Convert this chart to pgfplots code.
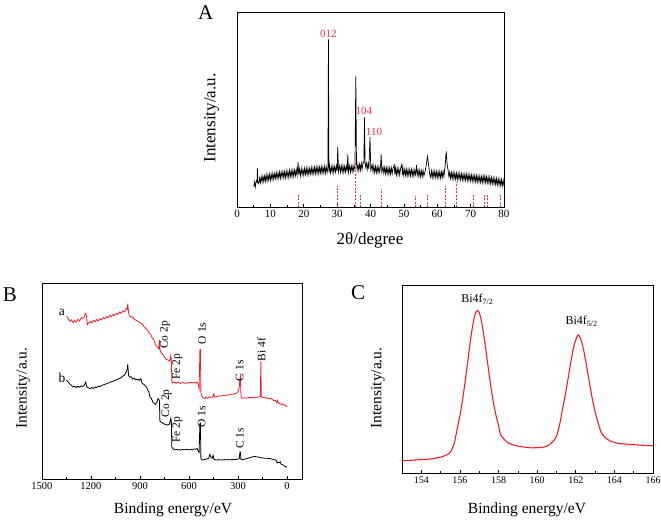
\documentclass[border=0pt]{standalone}
\usepackage{pgfplots}
\pgfplotsset{compat=1.18}
\usepackage{fontspec}
\setmainfont{Liberation Serif}
\definecolor{cred}{RGB}{240,30,40}
\definecolor{lred}{RGB}{235,50,75}
\pgfplotsset{
  panel/.style={scale only axis, axis line style={line width=0.8pt},
    ytick=\empty, xtick pos=bottom, tick align=inside,
    major tick length=3pt, minor tick length=1.8pt,
    every tick/.style={black, line width=0.6pt},
    /pgf/number format/assume math mode=true,
    /pgf/number format/1000 sep={},
    ymin=0, ymax=100,
    label style={font=\fontsize{15.5}{18}\selectfont},
    xlabel style={anchor=center}, ylabel style={anchor=center}}
}
\begin{document}
\begin{tikzpicture}
\useasboundingbox (0,0) rectangle (661pt,-522pt);
% ---------------- Panel A ----------------
\begin{axis}[panel, at={(237pt,-207pt)}, anchor=south west, width=267pt, height=195pt,
  xmin=0, xmax=80, xtick={0,10,...,80}, minor x tick num=1,
  ticklabel style={font=\fontsize{11}{13}\selectfont},
  label style={font=\fontsize{17}{20}\selectfont},
  xlabel={2θ/degree}, ylabel={Intensity/a.u.},
  xlabel style={at={(axis description cs:0.498,-0.169)}},
  ylabel style={at={(axis description cs:-0.095,0.456)}}]
\addplot[black, line width=0.7pt] table {
5.00 10.5
5.25 12.8
5.50 10.2
5.75 13.4
6.00 12.9
6.10 20.0
6.20 12.5
6.50 11.9
6.75 14.9
7.00 12.4
7.25 15.5
7.50 12.8
7.75 15.9
8.00 13.0
8.25 15.9
8.50 13.2
8.75 16.6
9.00 13.3
9.25 16.4
9.50 13.9
9.75 16.9
10.00 13.6
10.25 16.8
10.50 14.1
10.75 17.4
11.00 14.2
11.25 17.1
11.50 14.6
11.75 17.8
12.00 14.5
12.25 17.5
12.50 14.9
12.75 18.0
13.00 14.7
13.25 17.9
13.50 15.2
13.75 18.2
14.00 15.1
14.25 18.2
14.50 15.0
14.75 18.5
15.00 15.4
15.25 18.3
15.50 15.2
15.75 18.8
16.00 15.6
16.25 18.6
16.50 15.5
16.75 19.0
17.00 15.7
17.25 18.9
17.50 16.0
17.75 19.2
18.00 16.2
18.30 23.0
18.50 16.4
18.75 19.5
19.00 16.0
19.25 19.7
19.50 16.5
19.75 19.3
20.00 16.3
20.25 19.9
20.50 16.7
20.75 19.8
21.00 16.5
21.25 20.1
21.50 16.8
21.75 19.7
22.00 17.0
22.25 20.4
22.50 16.8
22.75 20.0
23.00 17.2
23.25 20.5
23.50 17.0
23.75 20.3
24.00 17.3
24.25 20.7
24.50 17.1
24.75 20.4
25.00 17.5
25.25 20.8
25.50 17.3
25.75 20.5
26.00 17.6
26.25 20.9
26.50 17.4
26.75 20.6
27.00 17.7
27.25 20.4
27.40 86.0
27.55 17.8
27.75 21.0
28.00 17.5
28.25 20.7
28.50 17.9
28.75 21.1
29.00 17.6
29.25 20.8
29.50 18.0
29.75 20.9
30.00 18.4
30.20 31.0
30.40 18.1
30.75 21.2
31.00 17.8
31.25 21.0
31.50 18.0
31.75 21.3
32.00 17.7
32.25 20.9
32.50 18.0
32.75 21.1
33.00 18.2
33.20 27.0
33.40 17.9
33.75 21.2
34.00 17.8
34.25 21.0
34.50 18.1
34.75 21.3
35.00 18.4
35.35 21.8
35.60 67.0
35.80 22.3
36.00 19.1
36.25 22.1
36.50 18.7
36.75 21.9
37.00 18.9
37.25 22.4
37.50 19.4
37.75 22.7
38.00 22.5
38.20 46.0
38.40 20.2
38.75 22.5
39.00 19.1
39.25 22.3
39.50 19.5
39.85 36.0
40.10 18.9
40.50 21.5
40.75 18.1
41.00 21.1
41.25 17.7
41.50 20.8
41.75 17.6
42.00 20.7
42.25 17.5
42.50 20.5
42.75 17.9
43.00 20.9
43.20 27.0
43.40 17.7
43.75 20.6
44.00 17.3
44.25 20.4
44.50 17.1
44.75 20.2
45.00 17.0
45.25 20.3
45.50 16.9
45.75 20.0
46.00 16.8
46.25 20.1
46.50 17.0
46.75 19.9
47.10 21.5
47.30 16.7
47.50 20.0
47.75 16.5
48.00 19.8
48.25 16.6
48.50 19.7
48.75 16.4
49.00 19.6
49.40 22.0
49.60 16.3
49.75 19.5
50.00 16.1
50.25 19.4
50.50 16.2
50.75 19.3
51.00 16.0
51.25 19.2
51.50 16.1
51.75 19.1
52.00 15.9
52.25 19.3
52.50 16.0
52.75 19.0
53.00 15.8
53.25 18.9
53.50 16.6
53.80 21.5
54.00 16.3
54.25 18.9
54.50 15.7
54.75 18.8
55.00 15.6
55.25 18.7
55.50 15.7
55.75 18.8
56.00 15.9
56.50 19.4
56.90 24.0
57.10 26.0
57.30 23.0
57.60 18.9
57.75 16.6
58.00 15.3
58.25 18.5
58.50 15.2
58.75 18.4
59.00 15.1
59.25 18.3
59.50 15.3
59.75 18.2
60.00 15.0
60.25 18.1
60.50 15.1
60.75 18.2
61.00 14.9
61.25 18.1
61.50 15.2
61.75 18.3
62.00 15.6
62.40 22.0
62.70 28.5
62.95 22.0
63.25 18.9
63.50 15.5
63.75 17.9
64.00 14.6
64.25 17.8
64.50 14.5
64.75 17.7
65.00 14.4
65.25 17.5
65.50 14.3
65.75 17.4
66.00 14.1
66.25 17.3
66.50 14.2
66.75 17.2
67.00 14.0
67.25 17.1
67.50 13.9
67.75 16.9
68.00 13.8
68.25 16.8
68.50 13.7
68.75 16.9
69.00 13.6
69.25 16.7
69.50 13.5
69.75 16.5
70.00 13.4
70.25 16.4
70.50 13.3
70.75 16.3
71.00 13.1
71.25 16.2
71.50 13.0
71.75 16.1
72.00 12.9
72.25 15.9
72.50 12.8
72.75 15.8
73.00 12.7
73.25 15.7
73.50 12.6
73.75 15.8
74.00 12.7
74.25 15.9
74.50 12.5
74.75 15.5
75.00 12.4
75.25 15.4
75.50 12.2
75.75 15.2
76.00 12.1
76.25 15.1
76.50 11.9
76.75 14.9
77.00 11.8
77.25 14.7
77.50 11.6
77.75 14.6
78.00 11.4
78.25 14.4
78.50 11.2
78.75 14.2
79.00 11.1
79.25 14.0
79.50 10.9
79.75 13.8
80.00 10.7
};
\addplot[lred, ycomb, line width=1pt, dash pattern=on 2pt off 1.5pt] table {
18.4 7.0
30.2 11.0
35.6 23.0
37.1 7.0
43.2 9.0
53.6 5.6
57.0 7.0
62.6 11.0
65.8 13.0
71.0 6.0
74.1 6.5
75.0 7.0
79.0 6.5
};
\node[lred, font=\fontsize{11}{13}\selectfont] at (axis cs:27.4,88.7) {012};
\node[lred, font=\fontsize{11}{13}\selectfont] at (axis cs:38.05,49.2) {104};
\node[lred, font=\fontsize{11}{13}\selectfont] at (axis cs:41.05,38.5) {110};
\end{axis}
% ---------------- Panel B ----------------
\begin{axis}[panel, at={(42pt,-479pt)}, anchor=south west, width=260pt, height=196pt,
  xmin=-92, xmax=1500, x dir=reverse, xtick={0,300,...,1500}, minor x tick num=1,
  ticklabel style={font=\fontsize{10.5}{12}\selectfont},
  xlabel={Binding energy/eV}, ylabel={Intensity/a.u.},
  xlabel style={at={(axis description cs:0.504,-0.158)}},
  ylabel style={at={(axis description cs:-0.072,0.464)}}]
\addplot[cred, line width=0.8pt] table {
1350 83.0
1340 82.0
1330 80.5
1320 81.2
1310 79.8
1300 80.9
1290 80.0
1280 81.5
1270 80.6
1260 82.3
1250 82.0
1240 83.0
1235 84.5
1228 83.5
1222 78.8
1215 79.5
1205 80.3
1195 79.6
1185 81.0
1175 80.2
1165 81.4
1155 80.6
1145 81.8
1135 81.2
1125 82.4
1115 81.7
1105 82.9
1095 82.3
1085 83.5
1075 82.8
1065 84.0
1055 83.4
1045 84.6
1035 84.0
1025 85.2
1015 84.6
1005 85.8
995 85.3
985 87.0
978 86.5
975 89.5
970 85.0
965 83.0
955 82.5
945 82.8
935 81.5
925 81.0
915 80.6
905 80.2
895 79.5
885 79.0
875 77.6
865 76.8
855 76.2
845 74.5
835 73.8
825 72.0
815 71.0
805 68.5
795 67.5
785 66.5
781 71.0
778 66.0
770 64.5
760 63.5
750 62.3
740 61.0
730 60.8
720 60.2
714 61.0
711 63.0
708 60.5
705 50.0
700 49.0
690 49.5
680 48.8
670 49.4
660 49.1
650 48.7
640 49.3
630 49.0
620 48.8
610 49.2
600 48.9
590 49.3
580 49.0
570 49.2
560 49.0
550 49.5
545 48.5
538 46.0
533 66.0
530 66.0
527 44.0
522 42.5
515 41.6
505 41.0
495 41.8
485 41.2
475 41.9
465 41.5
455 42.0
448 43.5
444 41.8
435 42.0
425 42.2
415 42.4
405 42.3
395 42.6
385 42.5
375 42.8
365 42.7
355 43.0
345 43.0
335 43.2
325 43.4
315 43.6
305 44.0
298 45.0
292 47.0
288 51.5
285 52.5
283 45.0
280 41.5
270 41.2
260 41.4
250 41.3
240 41.5
230 41.6
220 41.5
210 41.7
200 41.6
190 41.8
180 41.7
170 41.9
163 42.0
160 60.0
157 42.0
150 41.5
140 41.8
130 41.2
120 41.5
110 40.9
100 41.2
90 40.6
80 40.0
70 40.2
62 39.0
58 40.0
55 38.8
45 38.5
35 38.0
25 38.3
15 37.6
5 37.3
0 36.8
};
\addplot[black, line width=0.8pt] table {
1350 50.5
1340 49.5
1330 48.5
1320 47.8
1310 47.0
1300 47.3
1290 46.6
1280 47.4
1270 46.8
1260 47.5
1250 47.2
1240 48.0
1232 49.5
1226 47.0
1215 46.5
1205 46.0
1195 46.7
1185 46.2
1175 47.0
1165 46.6
1155 47.4
1145 47.1
1135 47.8
1125 48.0
1115 48.3
1105 48.6
1095 49.0
1085 49.2
1075 49.6
1065 49.9
1055 50.2
1045 50.6
1035 51.0
1025 51.3
1015 51.8
1005 52.5
995 53.0
985 54.5
978 56.0
975 58.5
970 53.0
965 52.0
955 52.2
945 51.0
935 51.5
925 50.5
915 51.0
905 50.3
895 51.2
888 49.0
880 48.5
870 47.8
860 47.0
850 45.0
845 44.5
840 42.0
830 41.0
820 39.0
812 38.5
805 38.0
795 39.5
790 41.0
784 40.5
781 40.0
778 29.5
770 29.0
760 28.5
750 28.0
740 27.8
730 27.5
720 28.0
714 30.0
711 31.0
708 29.0
705 16.5
700 15.5
690 15.0
680 15.2
670 14.8
660 15.0
650 14.7
640 15.1
630 14.9
620 15.0
610 15.2
600 14.9
590 15.1
580 15.0
570 15.3
560 15.2
550 15.6
545 14.5
538 13.5
533 28.6
530 28.6
527 10.5
520 9.7
510 9.8
500 10.0
490 10.3
480 10.6
472 12.5
465 11.0
458 10.5
452 12.0
446 10.0
440 9.8
430 9.7
420 9.9
410 9.7
400 9.8
390 9.7
380 9.9
370 9.8
360 9.9
350 9.8
340 9.9
330 9.9
320 10.0
310 10.0
300 10.1
292 10.5
288 13.8
285 13.8
282 10.0
275 9.8
265 10.0
255 10.2
245 10.5
235 10.7
225 11.0
215 11.2
205 11.4
195 11.5
185 11.3
175 11.2
165 11.0
155 10.8
145 10.7
135 10.6
125 10.6
115 10.5
105 10.5
95 10.2
85 10.0
75 9.8
65 9.5
60 8.2
55 8.5
48 8.3
42 8.8
35 7.5
25 7.2
15 6.6
5 6.3
0 6.0
};
\begin{scope}[every node/.style={font=\fontsize{11.5}{13}\selectfont}]
\node[rotate=90] at (axis cs:747,73.5) {Co 2p};
\node[rotate=90] at (axis cs:672,57.3) {Fe 2p};
\node[rotate=90] at (axis cs:520,74.3) {O 1s};
\node[rotate=90] at (axis cs:290,55.3) {C 1s};
\node[rotate=90] at (axis cs:157,66.0) {Bi 4f};
\node[rotate=90] at (axis cs:737,38.6) {Co 2p};
\node[rotate=90] at (axis cs:672,25.0) {Fe 2p};
\node[rotate=90] at (axis cs:522,31.8) {O 1s};
\node[rotate=90] at (axis cs:288,20.8) {C 1s};
\node[font=\fontsize{13.5}{15}\selectfont] at (axis cs:1378,85.2) {a};
\node[font=\fontsize{13.5}{15}\selectfont] at (axis cs:1378,51.5) {b};
\end{scope}
\end{axis}
% ---------------- Panel C ----------------
\begin{axis}[panel, at={(402pt,-473pt)}, anchor=south west, width=251pt, height=188pt,
  xmin=153, xmax=166, xtick={154,156,...,166}, minor x tick num=1,
  ticklabel style={font=\fontsize{10}{12}\selectfont},
  xlabel={Binding energy/eV}, ylabel={Intensity/a.u.},
  xlabel style={at={(axis description cs:0.498,-0.197)}},
  ylabel style={at={(axis description cs:-0.096,0.452)}}]
\addplot[cred, line width=1.1pt, smooth, tension=0.4] table {
153.0 6.5
153.5 6.8
154.0 7.1
154.5 7.5
155.0 8.4
155.3 9.6
155.5 11.0
155.7 15.5
155.8 20.5
155.9 25.6
156.0 30.5
156.1 36.5
156.2 43.4
156.3 51.0
156.4 58.9
156.5 67.0
156.6 74.5
156.7 80.7
156.8 84.8
156.9 86.5
157.0 85.3
157.1 81.6
157.2 75.8
157.3 68.8
157.4 61.1
157.5 53.5
157.6 46.2
157.7 39.6
157.8 33.9
157.9 29.2
158.0 25.4
158.1 20.5
158.3 17.8
158.5 16.0
158.8 14.8
159.2 14.0
159.7 13.4
160.2 13.6
160.5 14.3
160.8 16.5
161.0 19.5
161.1 23.0
161.2 27.5
161.3 33.3
161.4 38.4
161.5 44.1
161.6 50.1
161.7 56.3
161.8 62.3
161.9 67.4
162.0 70.9
162.13 73.5
162.25 71.4
162.35 68.0
162.45 63.2
162.55 57.5
162.65 51.4
162.75 45.5
162.85 39.9
162.95 34.9
163.05 30.5
163.15 27.0
163.3 22.0
163.5 19.0
163.8 17.0
164.2 15.8
164.8 15.2
165.4 14.8
166.0 14.5
};
\node[font=\fontsize{12}{14}\selectfont] at (axis cs:156.9,92.5) {Bi4f\textsubscript{7/2}};
\node[font=\fontsize{12}{14}\selectfont] at (axis cs:162.3,80.5) {Bi4f\textsubscript{5/2}};
\end{axis}
% panel letters
\node[font=\fontsize{21}{24}\selectfont] at (205.7pt,-12.5pt) {A};
\node[font=\fontsize{21}{24}\selectfont] at (10pt,-295pt) {B};
\node[font=\fontsize{21}{24}\selectfont] at (358pt,-293pt) {C};
\end{tikzpicture}
\end{document}
